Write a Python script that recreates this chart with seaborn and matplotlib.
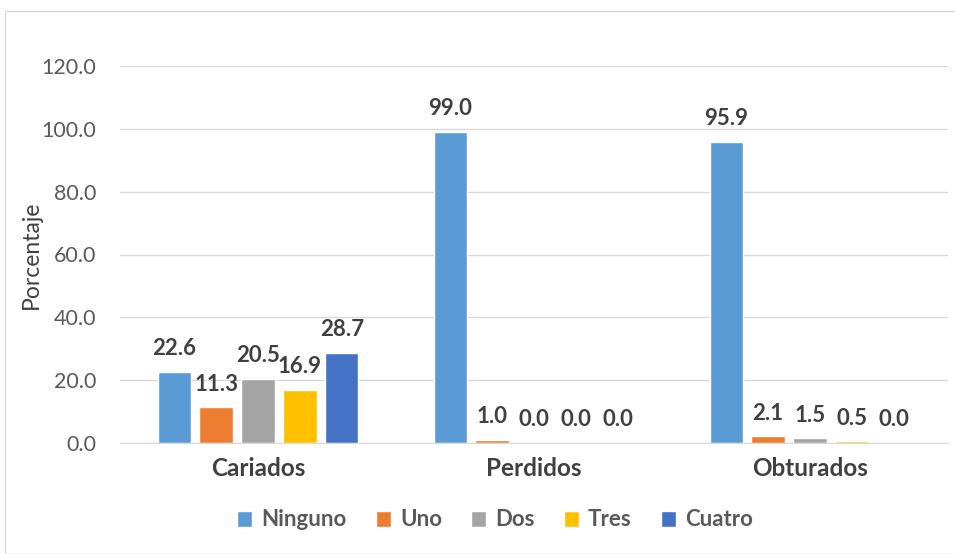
import matplotlib
matplotlib.use('Agg')
import matplotlib.pyplot as plt
import seaborn as sns
import pandas as pd
from matplotlib.patches import Rectangle

categorias = ['Cariados', 'Perdidos', 'Obturados']
grupos = ['Ninguno', 'Uno', 'Dos', 'Tres', 'Cuatro']
ninguno = [22.6, 99.0, 95.9]
uno = [11.3, 1.0, 2.1]
dos = [20.5, 0.0, 1.5]
tres = [16.9, 0.0, 0.5]
cuatro = [28.7, 0.0, 0.0]
colores = ['#5B9BD5', '#ED7D31', '#A5A5A5', '#FFC000', '#4472C4']

series = [ninguno, uno, dos, tres, cuatro]
rows = []
for g, vals in zip(grupos, series):
    for c, v in zip(categorias, vals):
        rows.append({'categoria': c, 'grupo': g, 'valor': v})
df = pd.DataFrame(rows)

sns.set_style('white')
plt.rcParams['font.family'] = ['Lato', 'DejaVu Sans']

fig = plt.figure(figsize=(9.55, 5.54), dpi=100)
ax = fig.add_axes([120 / 955, 111 / 554, 828 / 955, 377 / 554])

sns.barplot(data=df, x='categoria', y='valor', hue='grupo', order=categorias,
            hue_order=grupos, palette=colores, width=0.76, saturation=1,
            errorbar=None, ax=ax)

# thinner bars with small gaps, like the Excel original
ancho = 0.12
for cont in ax.containers:
    for p in cont.patches:
        cx = p.get_x() + p.get_width() / 2
        p.set_x(cx - ancho / 2)
        p.set_width(ancho)

for cont in ax.containers:
    ax.bar_label(cont, fmt='%.1f', padding=9, fontsize=16, fontweight='bold',
                 color='#404040')

ax.set_ylim(0, 120)
ax.set_yticks(range(0, 121, 20))
ax.set_yticklabels([f'{t:.1f}' for t in range(0, 121, 20)], fontsize=15.5, color='#595959')
ax.yaxis.grid(True, color='#D9D9D9', linewidth=1)
ax.set_axisbelow(True)
ax.tick_params(axis='y', length=0, pad=17)
ax.tick_params(axis='x', length=0, pad=10)
for lbl in ax.get_xticklabels():
    lbl.set_fontsize(17.5)
    lbl.set_fontweight('bold')
    lbl.set_color('#404040')
ax.set_xlabel('')
ax.set_ylabel('Porcentaje', fontsize=16.5, color='#404040')
ax.yaxis.set_label_coords(-78 / 828, 0.5)
for s in ['top', 'right', 'left']:
    ax.spines[s].set_visible(False)
ax.spines['bottom'].set_color('#D9D9D9')

handles, labels = ax.get_legend_handles_labels()
ax.get_legend().remove()
fig.legend(handles, labels, loc='center', bbox_to_anchor=(495 / 955, 1 - 520 / 554), ncol=5,
           frameon=False, prop={'size': 16, 'weight': 'bold'}, labelcolor='#595959',
           handlelength=0.7, handleheight=0.7, handletextpad=0.4, columnspacing=1.3)

fig.patches.append(Rectangle((5 / 955, 0), 960 / 955, 543 / 554, transform=fig.transFigure,
                             fill=False, edgecolor='#D9D9D9', linewidth=1))

fig.savefig('out.png', dpi=100)
